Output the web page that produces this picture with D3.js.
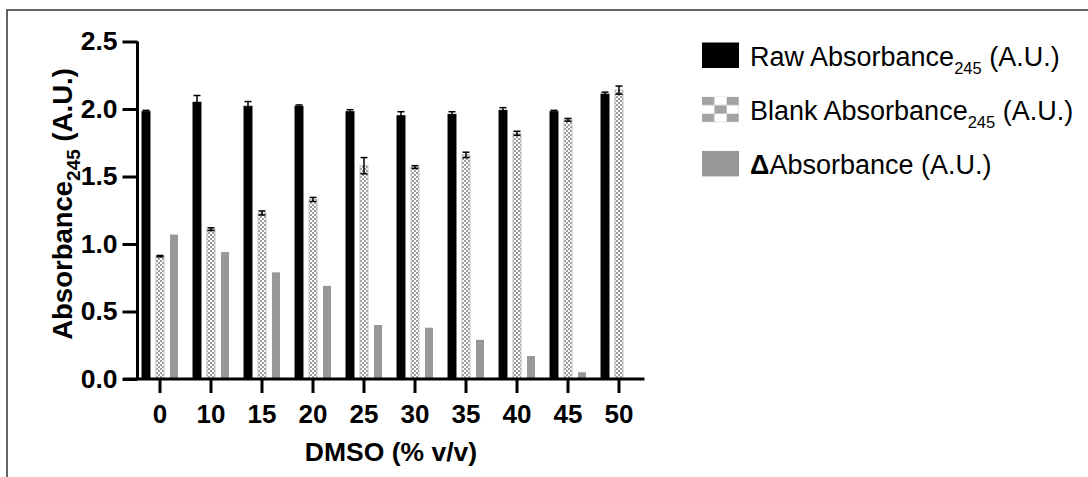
<!DOCTYPE html>
<html>
<head>
<meta charset="utf-8">
<script src="https://cdn.jsdelivr.net/npm/d3@7"></script>
<style>
  html, body { margin: 0; padding: 0; background: #fff; }
  svg { display: block; font-family: "Liberation Sans", Arial, Helvetica, sans-serif; }
</style>
</head>
<body>
<svg id="chart" width="1088" height="477"></svg>
<script>
// DMSO concentration groups (% v/v)
const categories = ["0", "10", "15", "20", "25", "30", "35", "40", "45", "50"];
// Absorbance at 245 nm (A.U.)
const rawAbs    = [1.98, 2.05, 2.02, 2.02, 1.98, 1.95, 1.96, 1.99, 1.98, 2.11];
const rawErr    = [0.01, 0.05, 0.035, 0.01, 0.015, 0.03, 0.02, 0.02, 0.01, 0.015];
const blankAbs  = [0.91, 1.11, 1.23, 1.33, 1.58, 1.57, 1.66, 1.82, 1.92, 2.14];
const blankErr  = [0.005, 0.01, 0.015, 0.015, 0.06, 0.01, 0.02, 0.015, 0.01, 0.03];
const deltaAbs  = [1.07, 0.94, 0.79, 0.69, 0.40, 0.38, 0.29, 0.17, 0.05, 0.00];
const seriesKeys = ["raw", "blank", "delta"];
const yTicks = [0, 0.5, 1.0, 1.5, 2.0, 2.5];

const svg = d3.select("#chart");

// Fill patterns: fine checkerboard for bars, coarse one for the legend swatch
const defs = svg.append("defs");
const fine = defs.append("pattern").attr("id", "checkFine")
  .attr("patternUnits", "userSpaceOnUse").attr("width", 4).attr("height", 4);
fine.append("rect").attr("width", 4).attr("height", 4).attr("fill", "#ffffff");
fine.append("rect").attr("width", 2).attr("height", 2).attr("fill", "#9c9c9c");
fine.append("rect").attr("x", 2).attr("y", 2).attr("width", 2).attr("height", 2).attr("fill", "#9c9c9c");

const coarse = defs.append("pattern").attr("id", "checkCoarse")
  .attr("patternUnits", "objectBoundingBox").attr("width", 2 / 3).attr("height", 2 / 3)
  .attr("patternContentUnits", "objectBoundingBox");
coarse.append("rect").attr("width", 2 / 3).attr("height", 2 / 3).attr("fill", "#ffffff");
coarse.append("rect").attr("width", 1 / 3).attr("height", 1 / 3).attr("fill", "#a3a3a3");
coarse.append("rect").attr("x", 1 / 3).attr("y", 1 / 3).attr("width", 1 / 3).attr("height", 1 / 3).attr("fill", "#a3a3a3");

// Frame
svg.append("path")
  .attr("d", "M7,477 L7,10 L1088,10")
  .attr("fill", "none").attr("stroke", "#333").attr("stroke-width", 1.5);

// Scales
const x = d3.scaleBand().domain(categories).range([134.5, 644.5]).padding(0);
const xs = d3.scaleBand().domain(seriesKeys).range([-21, 21]).paddingInner(0.36).paddingOuter(0.18);
const y = d3.scaleLinear().domain([0, 2.5]).range([379, 41.5]);

const rows = categories.map((c, i) => ({
  cat: c,
  raw: rawAbs[i], rawErr: rawErr[i],
  blank: blankAbs[i], blankErr: blankErr[i],
  delta: deltaAbs[i]
}));

const plot = svg.append("g");
const cx = c => x(c) + x.bandwidth() / 2;
const bw = xs.bandwidth();

// Bars
const styles = {
  raw:   { fill: "#000", stroke: "#000", sw: 1 },
  blank: { fill: "url(#checkFine)", stroke: "#bdbdbd", sw: 1 },
  delta: { fill: "#989898", stroke: "none", sw: 0 }
};
seriesKeys.forEach(k => {
  plot.append("g").selectAll("rect").data(rows.filter(d => d[k] > 0)).join("rect")
    .attr("x", d => cx(d.cat) + xs(k) + 0.5)
    .attr("y", d => y(d[k]))
    .attr("width", bw - 1)
    .attr("height", d => y(0) - y(d[k]))
    .attr("fill", styles[k].fill)
    .attr("stroke", styles[k].stroke)
    .attr("stroke-width", styles[k].sw);
});

// Error bars (mean ± SD)
[["raw", "rawErr"], ["blank", "blankErr"]].forEach(([k, e]) => {
  const g = plot.append("g").attr("stroke", "#000").attr("stroke-width", 1.5);
  const cap = 3.5;
  rows.forEach(d => {
    const xc = cx(d.cat) + xs(k) + bw / 2;
    const y1 = y(d[k] + d[e]), y0 = y(d[k] - d[e]);
    g.append("line").attr("x1", xc).attr("x2", xc).attr("y1", y1).attr("y2", y0);
    g.append("line").attr("x1", xc - cap).attr("x2", xc + cap).attr("y1", y1).attr("y2", y1);
    g.append("line").attr("x1", xc - cap).attr("x2", xc + cap).attr("y1", y0).attr("y2", y0);
  });
});

// Y axis
const yAxis = svg.append("g").attr("transform", "translate(137.5,0)")
  .call(d3.axisLeft(y).tickValues(yTicks).tickFormat(d3.format(".1f")).tickSize(15).tickSizeOuter(0).tickPadding(5));
yAxis.select(".domain").attr("stroke-width", 3).attr("d", `M0,${y(2.5)}V${y(0)}`);
yAxis.selectAll(".tick line").attr("stroke-width", 3);
yAxis.selectAll(".tick text")
  .attr("font-size", 26.5).attr("font-weight", "bold").attr("fill", "#000")
  .attr("font-family", "Liberation Sans, Arial, sans-serif");

// X axis
const xAxis = svg.append("g").attr("transform", `translate(0,${y(0)})`)
  .call(d3.axisBottom(x).tickSize(14).tickSizeOuter(0).tickPadding(12));
xAxis.select(".domain").attr("stroke-width", 3).attr("d", `M123,0H${x.range()[1]}`);
xAxis.selectAll(".tick line").attr("stroke-width", 3);
xAxis.selectAll(".tick text")
  .attr("font-size", 26).attr("font-weight", "bold").attr("fill", "#000")
  .attr("font-family", "Liberation Sans, Arial, sans-serif");

// Axis titles
svg.append("text")
  .attr("x", 391).attr("y", 461)
  .attr("text-anchor", "middle")
  .attr("font-size", 26.5).attr("font-weight", "bold")
  .text("DMSO (% v/v)");

const yTitle = svg.append("text")
  .attr("transform", "translate(72,204) rotate(-90)")
  .attr("text-anchor", "middle")
  .attr("font-size", 27.5).attr("font-weight", "bold");
yTitle.append("tspan").text("Absorbance");
yTitle.append("tspan").attr("font-size", 19).attr("dy", 8).text("245");
yTitle.append("tspan").attr("dy", -8).text(" (A.U.)");

// Legend
const legendItems = [
  { fill: "#000", stroke: "none", parts: [["Raw Absorbance", null], ["245", "sub"], [" (A.U.)", null]] },
  { fill: "url(#checkCoarse)", stroke: "none", parts: [["Blank Absorbance", null], ["245", "sub"], [" (A.U.)", null]] },
  { fill: "#989898", stroke: "none", parts: [["Δ", "bold"], ["Absorbance (A.U.)", null]] }
];
const legend = svg.append("g");
legendItems.forEach((it, i) => {
  const top = 42.5 + i * 54.2;
  legend.append("rect")
    .attr("x", 702).attr("y", top).attr("width", 37).attr("height", 25.5)
    .attr("fill", it.fill).attr("stroke", it.stroke);
  const t = legend.append("text")
    .attr("x", 750).attr("y", top + 23)
    .attr("font-size", 27).attr("fill", "#000");
  let shifted = false;
  it.parts.forEach(([s, kind]) => {
    const ts = t.append("tspan").text(s);
    if (kind === "sub") { ts.attr("font-size", 16.5).attr("dy", 8); shifted = true; }
    else if (shifted) { ts.attr("dy", -8); shifted = false; }
    if (kind === "bold") ts.attr("font-weight", "bold");
  });
});
</script>
</body>
</html>
